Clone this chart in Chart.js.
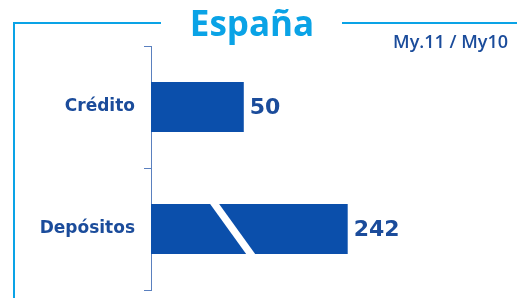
<!DOCTYPE html>
<html>
<head>
<meta charset="utf-8">
<script src="https://cdn.jsdelivr.net/npm/chart.js@4/dist/chart.umd.min.js"></script>
<style>
  html, body { margin: 0; padding: 0; background: #fff; }
  #wrap { width: 517px; height: 298px; position: relative; }
</style>
</head>
<body>
<div id="wrap"><canvas id="chart"></canvas></div>
<script>
// chart data
const categories = ['Crédito', 'Depósitos'];
const values = [50, 242];
const chartTitle = 'España';
const periodLabel = 'My.11 / My10';

// broken axis: the range between these values is cut out of the scale
const breakFrom = 60;
const breakTo = 196;
const slashAt = 44; // where the break slash is drawn on a broken bar

const CYAN = '#0aa3e6';
const BAR_BLUE = '#0b4fab';
const TEXT_BLUE = '#1b4c9b';
const AXIS_BLUE = '#5a80bf';

function compress(v) {
    if (v <= breakFrom) return v;
    if (v >= breakTo) return v - (breakTo - breakFrom);
    return breakFrom;
}

// linear scale with a gap in it
class BrokenLinearScale extends Chart.LinearScale {
    getPixelForValue(value) {
        return super.getPixelForValue(compress(value));
    }
}
BrokenLinearScale.id = 'brokenLinear';
BrokenLinearScale.defaults = Chart.LinearScale.defaults;
Chart.register(BrokenLinearScale);

// frame, title and period text
const framePlugin = {
    id: 'frame',
    beforeDraw(chart) {
        const ctx = chart.ctx;
        ctx.save();
        ctx.strokeStyle = CYAN;
        ctx.lineWidth = 2;
        ctx.beginPath();
        ctx.moveTo(14, 298);
        ctx.lineTo(14, 23);
        ctx.lineTo(161, 23);
        ctx.moveTo(342, 23);
        ctx.lineTo(517, 23);
        ctx.stroke();

        ctx.fillStyle = CYAN;
        ctx.font = 'bold 35px "Open Sans"';
        ctx.textAlign = 'center';
        ctx.textBaseline = 'alphabetic';
        ctx.fillText(chartTitle, 252, 36);

        ctx.fillStyle = TEXT_BLUE;
        ctx.font = '600 18px "Open Sans"';
        ctx.textAlign = 'right';
        ctx.fillText(periodLabel, 508, 48);
        ctx.restore();
    }
};

// value labels and the break slash
const valuePlugin = {
    id: 'values',
    afterDatasetsDraw(chart) {
        const ctx = chart.ctx;
        const meta = chart.getDatasetMeta(0);
        const xScale = chart.scales.x;
        ctx.save();
        meta.data.forEach((bar, i) => {
            const v = values[i];
            const top = bar.y - bar.height / 2;
            const bottom = bar.y + bar.height / 2;
            if (v >= breakTo) {
                const cx = xScale.getPixelForValue(slashAt);
                const lean = bar.height * 0.36;
                const w = 4.5;
                ctx.fillStyle = '#fff';
                ctx.beginPath();
                ctx.moveTo(cx - lean - w, top);
                ctx.lineTo(cx - lean + w, top);
                ctx.lineTo(cx + lean + w, bottom);
                ctx.lineTo(cx + lean - w, bottom);
                ctx.closePath();
                ctx.fill();
            }
            ctx.fillStyle = TEXT_BLUE;
            ctx.font = 'bold 22px "DejaVu Sans"';
            ctx.textAlign = 'left';
            ctx.textBaseline = 'middle';
            ctx.fillText(String(v), bar.x + 6, bar.y + 1);
        });
        ctx.restore();
    }
};

new Chart(document.getElementById('chart'), {
    type: 'bar',
    data: {
        labels: categories,
        datasets: [{
            data: values,
            backgroundColor: BAR_BLUE,
            borderWidth: 0,
            categoryPercentage: 1,
            barPercentage: 0.41
        }]
    },
    options: {
        indexAxis: 'y',
        responsive: true,
        maintainAspectRatio: false,
        animation: false,
        layout: { padding: { top: 46, bottom: 8, left: 0, right: 6 } },
        scales: {
            x: {
                type: 'brokenLinear',
                display: false,
                min: 0,
                max: 194
            },
            y: {
                afterFit(scale) {
                    scale.width = 151;
                    scale.paddingTop = 0;
                    scale.paddingBottom = 0;
                },
                grid: {
                    drawOnChartArea: false,
                    drawTicks: true,
                    tickLength: 7,
                    color: AXIS_BLUE,
                    lineWidth: 1
                },
                border: { display: true, color: AXIS_BLUE, width: 1 },
                ticks: {
                    color: TEXT_BLUE,
                    padding: 9,
                    font: { family: '"DejaVu Sans"', size: 17, weight: 'bold' }
                }
            }
        },
        plugins: {
            legend: { display: false },
            tooltip: { enabled: false }
        }
    },
    plugins: [framePlugin, valuePlugin]
});
</script>
</body>
</html>
